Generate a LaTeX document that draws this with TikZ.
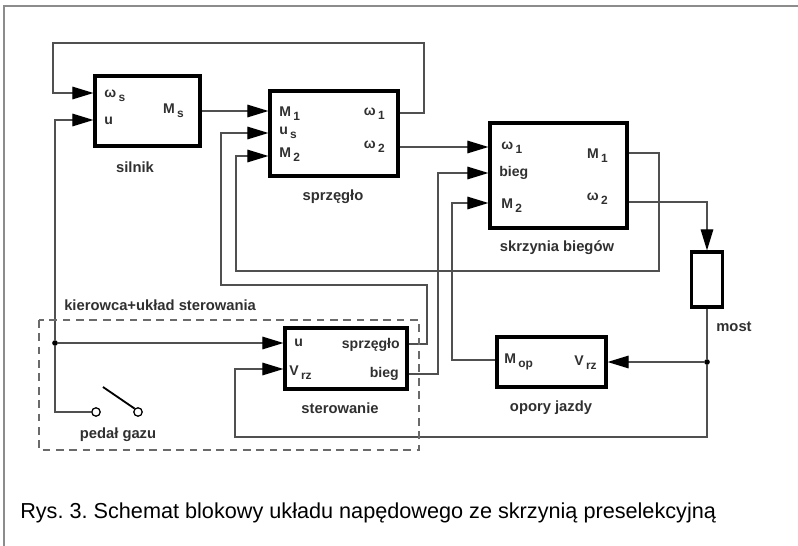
\documentclass[tikz,border=0pt]{standalone}
\usepackage{fontspec}
\setmainfont{Liberation Sans}
\usetikzlibrary{arrows.meta,positioning}
\definecolor{napWire}{HTML}{505050}
\definecolor{napText}{HTML}{303030}
\definecolor{napFrame}{HTML}{8C8C8C}
\definecolor{napDash}{HTML}{6A6A6A}
\frenchspacing
\newcommand{\lo}[1]{\,\raisebox{-0.55ex}{\fontsize{8.5}{9}\selectfont #1}}
\tikzset{
  nap block/.style={draw=black, line width=2.3pt, inner sep=0pt},
  nap wire/.style={draw=napWire, line width=0.8pt},
  nap arrow/.style={nap wire, -{Triangle[length=15pt, width=9pt, color=black]}},
  nap port/.style={font=\fontsize{10}{11}\selectfont\bfseries, text=napText, inner sep=0pt},
  nap label/.style={font=\fontsize{10.5}{12}\selectfont\bfseries, text=napText, inner sep=0pt},
  nap dot/.style={circle, fill=black, minimum size=4pt, inner sep=0pt},
  nap contact/.style={circle, draw=black, line width=0.9pt, fill=white, minimum size=6pt, inner sep=0pt},
  nap frame/.style={draw=napFrame, line width=1.2pt},
  nap group/.style={draw=napDash, dash pattern=on 5.5pt off 4pt, line width=0.9pt},
}

\begin{document}
\begin{tikzpicture}[x=0.025cm, y=-0.025cm]
  \useasboundingbox (0,0) rectangle (798,546);
  \draw[nap frame] (4,546) -- (4,6) -- (798,6);
  % Blocks
  \node[nap block, minimum width=2.625cm, minimum height=1.75cm] (silnik) at (147.5,111) {};
  \node[nap block, minimum width=3.2cm, minimum height=2.125cm] (sprz) at (334,133.5) {};
  \node[nap block, minimum width=3.425cm, minimum height=2.625cm] (skrz) at (558.5,175.5) {};
  \node[nap block, minimum width=0.775cm, minimum height=1.375cm] (most) at (707,279.5) {};
  \node[nap block, minimum width=2.725cm, minimum height=1.25cm] (opory) at (551.5,362) {};
  \node[nap block, minimum width=3.05cm, minimum height=1.525cm] (ster) at (346,358.5) {};
  % Block names
  \node[nap label] (silnikName) at (135,167) {silnik};
  \node[nap label] (sprzName) at (333,197) {sprzęgło};
  \node[nap label] (skrzName) at (557,248) {skrzynia biegów};
  \node[nap label] (mostName) at (734,327) {most};
  \node[nap label] (oporyName) at (551,408) {opory jazdy};
  \node[nap label] (sterName) at (340,408) {sterowanie};
  \node[nap label] (pedName) at (118,435) {pedał gazu};
  \node[nap label, anchor=west] (groupName) at (64,305) {kierowca+układ sterowania};
  % Port texts
  \node[nap port, anchor=west] (silnikWs) at (104,96) {ω\lo{s}};
  \node[nap port, anchor=west] (silnikU) at (104,121) {u};
  \node[nap port, anchor=east] (silnikMs) at (184,111) {M\lo{s}};
  \node[nap port, anchor=west] (sprzM1) at (279,114) {M\lo{1}};
  \node[nap port, anchor=west] (sprzUs) at (279,133) {u\lo{s}};
  \node[nap port, anchor=west] (sprzM2) at (279,155) {M\lo{2}};
  \node[nap port, anchor=east] (sprzW1) at (385,114) {ω\lo{1}};
  \node[nap port, anchor=east] (sprzW2) at (385,147) {ω\lo{2}};
  \node[nap port, anchor=west] (skrzW1) at (501,148) {ω\lo{1}};
  \node[nap port, anchor=west] (skrzBieg) at (499,173) {bieg};
  \node[nap port, anchor=west] (skrzM2) at (501,206) {M\lo{2}};
  \node[nap port, anchor=east] (skrzM1) at (608,156) {M\lo{1}};
  \node[nap port, anchor=east] (skrzW2) at (608,199) {ω\lo{2}};
  \node[nap port, anchor=west] (oporyMop) at (504,362) {M\lo{op}};
  \node[nap port, anchor=east] (oporyVrz) at (597,363) {V\lo{rz}};
  \node[nap port, anchor=west] (sterU) at (294,343) {u};
  \node[nap port, anchor=east] (sterSprz) at (400,345) {sprzęgło};
  \node[nap port, anchor=west] (sterVrz) at (289,373) {V\lo{rz}};
  \node[nap port, anchor=east] (sterBieg) at (399,374) {bieg};
  % Engine and clutch
  \draw[nap arrow] (silnik.east) -- (sprz.west |- silnik.east);
  \draw[nap arrow] (sprz.east |- 0,113) -| (424,43) -| (53,93) -- (silnik.west |- 0,93);
  \draw[nap arrow] (sprz.east |- 0,147) -- (skrz.west |- 0,147);
  \draw[nap arrow] (skrz.east |- 0,153) -| (659,271) -| (236,156) -- (sprz.west |- 0,156);
  % Gearbox, axle and resistance
  \draw[nap arrow] (skrz.east |- 0,202) -| (most.north);
  \node[nap dot] (jV) at (most.south |- 0,362) {};
  \draw[nap wire] (most.south) -- (jV);
  \draw[nap arrow] (jV) -- (opory.east);
  \draw[nap arrow] (jV) |- (235,437) |- (ster.west |- 0,369);
  \draw[nap arrow] (opory.west |- 0,360) -| (452,203) -- (skrz.west |- 0,203);
  % Control outputs
  \draw[nap arrow] (ster.east |- 0,344) -| (427,285) -| (221,133) -- (sprz.west |- 0,133);
  \draw[nap arrow] (ster.east |- 0,374) -| (438,173) -- (skrz.west |- 0,173);
  % Driver: pedal
  \node[nap dot] (jU) at (55,343) {};
  \draw[nap arrow] (jU) -- (ster.west |- jU);
  \draw[nap arrow] (jU) |- (silnik.west |- 0,120);
  \node[nap contact] (pedA) at (96,412) {};
  \node[nap contact] (pedB) at (138,412) {};
  \draw[nap wire] (jU) |- (pedA);
  \draw[black, line width=1.3pt] (103,387) -- (pedB.north west);
  \draw[nap group] (39,320) rectangle (419,450);
  % Caption
  \node[anchor=west, inner sep=0pt, font=\fontsize{15.4}{18}\selectfont] (caption) at (20,513)
    {Rys. 3. Schemat blokowy układu napędowego ze skrzynią preselekcyjną};
\end{tikzpicture}
\end{document}
